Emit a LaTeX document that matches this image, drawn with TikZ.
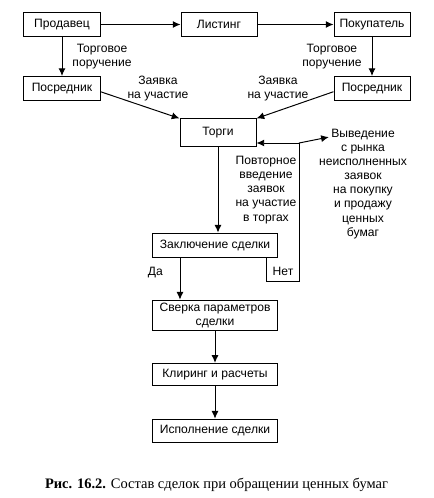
\documentclass[tikz,border=0pt]{standalone}
\usepackage{fontspec}
\setmainfont{Liberation Serif}
\setsansfont{Liberation Sans}
\usepackage{tikz}
\usetikzlibrary{positioning}
\usetikzlibrary{shapes.geometric, arrows.meta}
\tikzstyle{box} = [rectangle, minimum width=1.9cm, minimum height=0.6cm, inner sep=1pt, text centered, draw=black, line width=0.7pt]
\tikzstyle{wide} = [box, minimum width=3.1cm]
\tikzstyle{note} = [align=center, inner sep=0pt]
\tikzstyle{arrow} = [line width=0.7pt,->]
\tikzset{>={Latex[length=5.5pt,width=5pt]}}

\begin{document}
\begin{tikzpicture}[x=0.025cm, y=-0.025cm, node distance=1.6cm, font=\fontsize{8.6}{10}\selectfont\sffamily]
    \useasboundingbox (0,0) rectangle (433,498);
    % Nodes
    \node (seller) [box] at (62,24.5) {Продавец};
    \node (listing) [box] at (219,24.5) {Листинг};
    \node (buyer) [box] at (372,24.5) {Покупатель};
    \node (brokerL) [box, below of=seller] {Посредник};
    \node (brokerR) [box, below of=buyer] {Посредник};
    \node (torgi) [box, minimum height=0.68cm] at (218,132.5) {Торги};
    \node (deal) [wide, minimum height=0.62cm] at (215,245.5) {Заключение сделки};
    \node (check) [wide, below of=deal, yshift=-0.14cm, minimum height=0.75cm, align=center] {Сверка параметров\\сделки};
    \node (clearing) [wide, below of=check, yshift=0.12cm, minimum height=0.55cm] {Клиринг и расчеты};
    \node (exec) [wide, below of=clearing, yshift=0.19cm, minimum height=0.58cm] {Исполнение сделки};
    % Texts
    \node (bidL) [note] at (158,89) {Заявка\\на участие};
    \node (bidR) [note] at (278,89) {Заявка\\на участие};
    \node (repeat) [note] at (266,190) {Повторное\\введение\\заявок\\на участие\\в торгах};
    \node (remove) [note] at (363,184) {Выведение\\с рынка\\неисполненных\\заявок\\на покупку\\и продажу\\ценных\\бумаг};
    \node (no) at (283,271) {Нет};
    \node (caption) at (216.5,485) {\rmfamily\fontsize{10.3}{12}\selectfont\textbf{Рис. 16.2.} Состав сделок при обращении ценных бумаг};
    \coordinate (loopR) at (299,281);
    \coordinate (turn) at (299,143);
    % Arrows
    \draw [arrow] (seller) -- (listing);
    \draw [arrow] (listing) -- (buyer);
    \draw [arrow] (seller) -- node[note, midway, right=0.25cm] (orderL) {Торговое\\поручение} (brokerL);
    \draw [arrow] (buyer) -- node[note, midway, left=0.25cm] (orderR) {Торговое\\поручение} (brokerR);
    \draw [arrow] ([yshift=-0.08cm]brokerL.east) -- (torgi.north west);
    \draw [arrow] ([yshift=-0.08cm]brokerR.west) -- (torgi.north east);
    \draw [arrow] (torgi) -- (torgi |- deal.north);
    \draw [arrow] ([xshift=-0.875cm]deal.south) -- node[pos=0.35, left=0.3cm] (yes) {Да} ([xshift=-0.875cm]check.north);
    \draw [arrow] (check) -- (clearing);
    \draw [arrow] (clearing) -- (exec);
    % Loop back to Torgi
    \draw [arrow] ([xshift=1.275cm]deal.south) |- (loopR) -- (turn) -- (turn -| torgi.east);
    \draw [arrow] (turn) -- ([shift={(0.25cm,-0.2cm)}]remove.north west);
\end{tikzpicture}
\end{document}
